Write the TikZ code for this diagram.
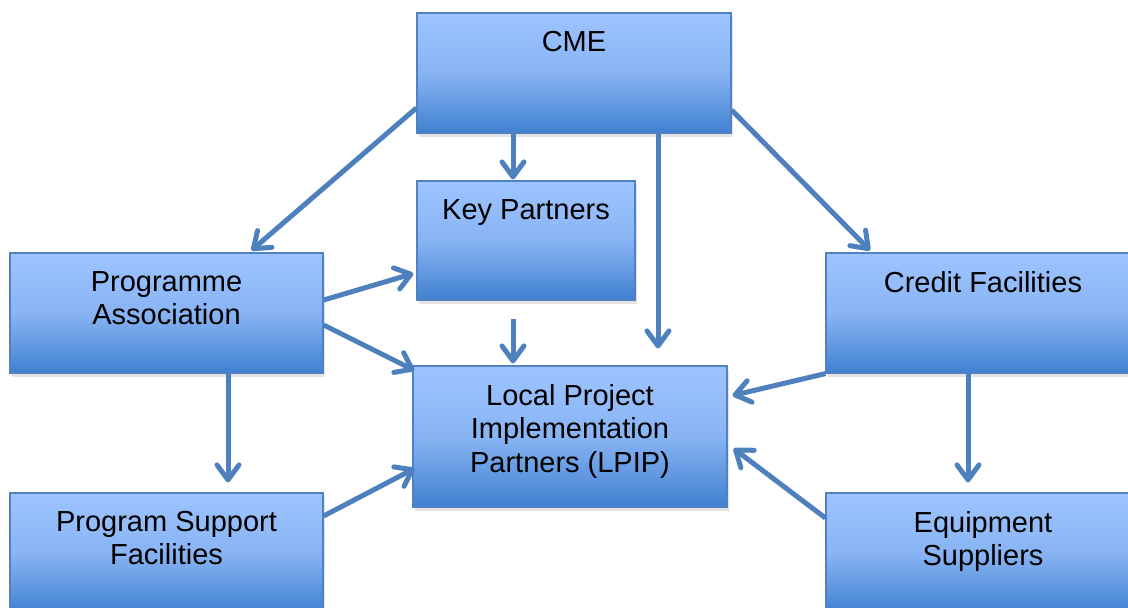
\documentclass[tikz,border=0pt]{standalone}
\usepackage{fontspec}
\setmainfont{Liberation Sans}
\usetikzlibrary{arrows.meta,calc,shadows}
\definecolor{arrowblue}{RGB}{78,128,190}
\definecolor{edgeblue}{RGB}{80,130,195}
\definecolor{toplight}{RGB}{158,196,255}
\definecolor{midblue}{RGB}{136,180,244}
\definecolor{botblue}{RGB}{64,128,208}
\tikzset{
  box/.style={draw=edgeblue, line width=1.2pt, rectangle, inner sep=0pt,
    top color=toplight, bottom color=botblue, middle color=midblue,
    drop shadow={shadow xshift=2pt, shadow yshift=-4pt, opacity=0.22}},
  lab/.style={anchor=north, inner sep=0pt, align=center,
    font=\fontsize{29}{33.5}\selectfont},
  conn/.style={draw=arrowblue, line width=5pt,
    -{Straight Barb[length=15pt,width=22pt,line width=5pt,round]}}
}
\begin{document}
\begin{tikzpicture}[x=1pt,y=-1pt]
\useasboundingbox[fill=white] (0,0) rectangle (1128,608);
% boxes
\node[box, minimum width=314, minimum height=120] (cme) at (574,73) {};
\node[box, minimum width=218, minimum height=119] (key) at (526,240.5) {};
\node[box, minimum width=313, minimum height=120] (pa) at (166.5,313) {};
\node[box, minimum width=314, minimum height=120] (cf) at (983,313) {};
\node[box, minimum width=314, minimum height=141] (lpip) at (570,436.5) {};
\node[box, minimum width=313, minimum height=120] (psf) at (166.5,553) {};
\node[box, minimum width=314, minimum height=120] (es) at (983,553) {};
% labels
\node[lab] (cmet) at ($(cme.north)+(0,18.5)$) {CME};
\node[lab] (keyt) at ($(key.north)+(0,18.5)$) {Key Partners};
\node[lab] (pat) at ($(pa.north)+(0,18.5)$) {Programme\\Association};
\node[lab] (cft) at ($(cf.north)+(0,18.5)$) {Credit Facilities};
\node[lab] (lpipt) at ($(lpip.north)+(0,18.5)$) {Local Project\\Implementation\\Partners (LPIP)};
\node[lab] (psft) at ($(psf.north)+(0,18.5)$) {Program Support\\Facilities};
\node[lab] (est) at ($(es.north)+(0,18.5)$) {Equipment\\Suppliers};
% free ends
\coordinate (cmeend) at ($(lpip.north)+(88,-17)$);
\coordinate (keyout) at ($(key.south)+(-13,18)$);
% connectors
\draw[conn] ($(cme.west)+(0,35)$) -- ($(pa.north)+(85,-2)$);
\draw[conn] ($(cme.south)+(-61,0)$) -- ($(key.north)+(-13,-1)$);
\draw[conn] ($(cme.south)+(84,0)$) -- (cmeend);
\draw[conn] ($(cme.east)+(0,37)$) -- ($(cf.north)+(-113,-2)$);
\draw[conn] ($(pa.east)+(0,-13)$) -- ($(key.west)+(-3,33)$);
\draw[conn] ($(pa.east)+(0,12)$) -- ($(lpip.north west)+(2,5)$);
\draw[conn] (keyout) -- ($(lpip.north)+(-57,-2)$);
\draw[conn] (cf.south west) -- ($(lpip.east)+(5,-41)$);
\draw[conn] ($(pa.south)+(61.5,0)$) -- ($(psf.north)+(61.5,-10)$);
\draw[conn] ($(psf.east)+(0,-37)$) -- ($(lpip.west)+(2,32)$);
\draw[conn] ($(es.west)+(0,-35)$) -- ($(lpip.east)+(6,12)$);
\draw[conn] ($(cf.south)+(-15,0)$) -- ($(es.north)+(-15,-10)$);
\end{tikzpicture}
\end{document}
